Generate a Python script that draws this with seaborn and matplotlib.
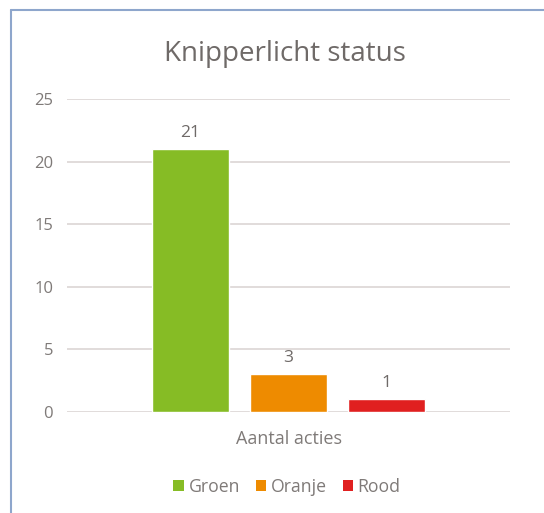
import matplotlib
matplotlib.use("Agg")
import matplotlib.pyplot as plt
from matplotlib.lines import Line2D
from matplotlib.patches import Patch
import seaborn as sns
import pandas as pd

categories = ["Aantal acties"]
statuses = ["Groen", "Oranje", "Rood"]
values = [21, 3, 1]
colors = ["#86bc25", "#ee8b00", "#e02020"]
yticks = [0, 5, 10, 15, 20, 25]
title = "Knipperlicht status"

df = pd.DataFrame({"groep": categories * len(statuses), "status": statuses, "waarde": values})

sns.set_theme(style="white")
plt.rcParams["font.family"] = ["Open Sans", "DejaVu Sans"]
txt = "#7f7a78"

fig = plt.figure(figsize=(5.44, 5.13), dpi=100)
ax = fig.add_axes([67/544, 1 - 412/513, (510 - 67)/544, (412 - 99)/513])
sns.barplot(data=df, x="groep", y="waarde", hue="status", palette=colors,
            hue_order=statuses, width=0.664, gap=0.21, ax=ax, legend=False,
            saturation=1)
ax.set_xlim(-0.5, 0.5)
ax.set_ylim(0, 25)
ax.set_yticks(yticks)
ax.set_xlabel("")
ax.set_ylabel("")
for s in ax.spines.values():
    s.set_visible(False)
ax.yaxis.grid(True, color="#dcd6d4", linewidth=1.2)
ax.set_axisbelow(True)
ax.tick_params(axis="y", length=0, pad=10, labelsize=12, labelcolor=txt)
ax.tick_params(axis="x", length=0, pad=13, labelsize=13, labelcolor=txt)
for c in ax.containers:
    ax.bar_label(c, padding=6, fontsize=12.5, color="#6f6a68")

fig.text(285/544, 1 - 54/513, title, ha="center", va="center", fontsize=20, color="#6f6a68")

handles = [Patch(facecolor=c, edgecolor="none") for c in colors]
fig.legend(handles, statuses, loc="center", bbox_to_anchor=(287/544, 1 - 487/513),
           ncol=3, frameon=False, fontsize=12.7, labelcolor=txt, handlelength=0.6,
           handleheight=0.6, handletextpad=0.25, columnspacing=0.9)

fig.add_artist(Line2D([11/544, 11/544], [0, 1 - 10/513], color="#8ea6cc", linewidth=1.5))
fig.add_artist(Line2D([11/544, 1], [1 - 10/513, 1 - 10/513], color="#8ea6cc", linewidth=1.5))

fig.savefig("out.png", dpi=100, facecolor="white")
